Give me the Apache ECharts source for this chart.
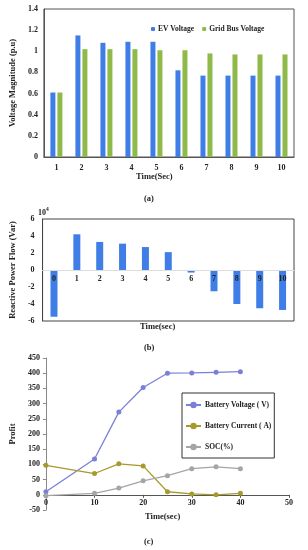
<!DOCTYPE html>
<html><head><meta charset="utf-8">
<script src="https://cdn.jsdelivr.net/npm/echarts@6/dist/echarts.min.js"></script>
<style>html,body{margin:0;padding:0;background:#fff}#c{width:308px;height:550px}</style>
</head><body><div id="c"></div>
<script>
// (a) voltage magnitude
const catsA = ['1','2','3','4','5','6','7','8','9','10'];
const evVoltage = [0.61,1.15,1.08,1.09,1.09,0.82,0.77,0.77,0.77,0.77];
const gridBusVoltage = [0.61,1.02,1.02,1.02,1.01,1.01,0.98,0.97,0.97,0.97];
// (b) reactive power flow (x10^4 Var)
const catsB = ['0','1','2','3','4','5','6','7','8','9','10'];
const reactivePower = [-5.5,4.2,3.3,3.1,2.7,2.1,-0.3,-2.5,-4.0,-4.5,-4.7];
// (c) battery
const timeC = [0,10,15,20,25,30,35,40];
const batteryVoltage = [10,118,272,353,400,401,403,405];
const batteryCurrent = [97,70,102,95,10,3,0,5];
const soc = [-3,5,22,46,63,86,92,86];

const F = 'Liberation Serif';
const tl = {fontFamily:F,fontWeight:'bold',fontSize:8,color:'#222'};
const nm = {fontFamily:F,fontWeight:'bold',fontSize:8.5,color:'#222'};
const BLUE = '#3f7ee6', GREEN = '#8fba4a';
const zip = (xs, ys) => xs.map((x,i)=>[x,ys[i]]);

const chart = echarts.init(document.getElementById('c'));
chart.setOption({
  animation:false,
  grid:[
    {left:39, top:9, width:255, height:148, show:true, borderColor:'#555', borderWidth:1},
    {left:34, top:219, width:260, height:102, show:true, borderColor:'#444', borderWidth:1},
    {left:36, top:358, width:253, height:152}
  ],
  legend:[
    {data:['EV Voltage','Grid Bus Voltage'], left:146, top:20, itemWidth:4, itemHeight:4, itemGap:8,
     textStyle:{fontFamily:F,fontWeight:'bold',fontSize:7.5,color:'#222',padding:[0,0,0,-2]}},
    {data:['Battery Voltage ( V)','Battery Current ( A)','SOC(%)'], orient:'vertical', left:182, top:393,
     padding:[8,3,7,3], itemGap:13, itemWidth:15, itemHeight:8,
     borderColor:'#333', borderWidth:1,
     textStyle:{fontFamily:F,fontWeight:'bold',fontSize:7.5,color:'#222',padding:[0,0,0,-1]}}
  ],
  xAxis:[
    {gridIndex:0, type:'category', data:catsA, axisTick:{show:false},
     axisLine:{lineStyle:{color:'#555'}}, axisLabel:Object.assign({margin:7},tl)},
    {gridIndex:1, type:'category', data:catsB, axisTick:{show:false}, z:5, offset:-51,
     axisLine:{onZero:false, lineStyle:{color:'#ddd'}}, axisLabel:Object.assign({margin:5},tl)},
    {gridIndex:2, type:'value', min:0, max:50, interval:10, splitLine:{show:false}, offset:-15.2,
     axisLine:{onZero:false, lineStyle:{color:'#555'}}, axisTick:{length:3, lineStyle:{color:'#555'}},
     axisLabel:Object.assign({margin:4},tl)}
  ],
  yAxis:[
    {gridIndex:0, type:'value', min:0, max:1.4, interval:0.2, splitLine:{show:false},
     axisLine:{show:true,lineStyle:{color:'#555'}}, axisTick:{show:false},
     axisLabel:Object.assign({margin:6},tl),
     name:'Voltage Magnitude (p.u)', nameLocation:'middle', nameGap:25, nameTextStyle:nm},
    {gridIndex:1, type:'value', min:-6, max:6, interval:2, splitLine:{show:false},
     axisLine:{show:true,lineStyle:{color:'#444'}}, axisTick:{show:false},
     axisLabel:Object.assign({margin:8},tl),
     name:'Reactive Power Flow (Var)', nameLocation:'middle', nameGap:23, nameTextStyle:nm},
    {gridIndex:2, type:'value', min:-50, max:450, interval:50, splitLine:{show:false},
     axisLine:{show:true,lineStyle:{color:'#888'}}, axisTick:{show:true,length:3,lineStyle:{color:'#888'}},
     axisLabel:Object.assign({margin:6},tl),
     name:'Profit', nameLocation:'middle', nameGap:26, nameTextStyle:nm}
  ],
  series:[
    {name:'EV Voltage', type:'bar', xAxisIndex:0, yAxisIndex:0, data:evVoltage, barWidth:5, barGap:'40%', itemStyle:{color:BLUE}},
    {name:'Grid Bus Voltage', type:'bar', xAxisIndex:0, yAxisIndex:0, data:gridBusVoltage, barWidth:5, barGap:'40%', itemStyle:{color:GREEN}},
    {name:'Reactive', type:'bar', xAxisIndex:1, yAxisIndex:1, data:reactivePower, barWidth:7, itemStyle:{color:BLUE}},
    {name:'Battery Voltage ( V)', type:'line', xAxisIndex:2, yAxisIndex:2, data:zip(timeC,batteryVoltage),
     symbol:'circle', symbolSize:5, lineStyle:{width:1.3,color:'#7b7fd9'}, itemStyle:{color:'#7b7fd9'}},
    {name:'Battery Current ( A)', type:'line', xAxisIndex:2, yAxisIndex:2, data:zip(timeC,batteryCurrent),
     symbol:'circle', symbolSize:5, lineStyle:{width:1.3,color:'#a59a2b'}, itemStyle:{color:'#a59a2b'}},
    {name:'SOC(%)', type:'line', xAxisIndex:2, yAxisIndex:2, data:zip(timeC,soc),
     symbol:'circle', symbolSize:5, lineStyle:{width:1.3,color:'#a5a5a5'}, itemStyle:{color:'#a5a5a5'}}
  ],
  graphic:[
    {type:'text', left:136, top:172, style:{text:'Time(Sec)', font:'bold 8.5px "Liberation Serif"', fill:'#222'}},
    {type:'text', left:144, top:194, style:{text:'(a)', font:'bold 8.5px "Liberation Serif"', fill:'#222'}},
    {type:'text', left:38, top:207, style:{text:'10{s|4}', font:'bold 8px "Liberation Serif"', fill:'#222',
      rich:{s:{fontSize:5.5, fontWeight:'bold', fontFamily:F, verticalAlign:'top', padding:[0,0,5,0]}}}},
    {type:'text', left:140, top:322, style:{text:'Time(sec)', font:'bold 8.5px "Liberation Serif"', fill:'#222'}},
    {type:'text', left:144, top:343, style:{text:'(b)', font:'bold 8.5px "Liberation Serif"', fill:'#222'}},
    {type:'text', left:145, top:512, style:{text:'Time(sec)', font:'bold 8.5px "Liberation Serif"', fill:'#222'}},
    {type:'text', left:144, top:537, style:{text:'(c)', font:'bold 8.5px "Liberation Serif"', fill:'#222'}}
  ]
});
</script></body></html>
